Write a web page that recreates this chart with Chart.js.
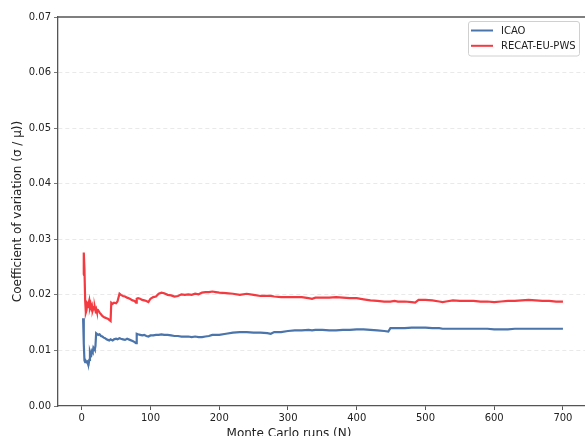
<!DOCTYPE html>
<html>
<head>
<meta charset="utf-8">
<script src="https://cdn.jsdelivr.net/npm/chart.js@4/dist/chart.umd.min.js"></script>
<style>
html,body{margin:0;padding:0;overflow:hidden;background:#fff;}
#wrap{width:585px;height:436px;overflow:hidden;position:relative;}
canvas{display:block;}
</style>
</head>
<body>
<div id="wrap"><canvas id="c" width="620" height="436"></canvas></div>
<script>
const runs = [2,3,4,5,6,7,8,9,10,11,12,13,14,15,16,17,18,19,20,21,22,24,26,28,30,32,34,36,38,40,42,43,45,47,50,52,55,57,60,63,66,70,74,77,79,80,82,85,88,91,94,97,100,104,108,112,116,120,125,130,135,140,145,150,155,160,165,170,175,180,185,190,195,200,210,220,230,240,250,260,270,275,280,290,300,310,320,330,335,340,350,360,370,380,390,400,410,420,430,440,446,449,455,460,470,480,485,490,495,500,510,520,525,530,540,550,560,570,580,590,600,610,620,630,640,650,660,670,680,690,700];

const icao = [0.0158,0.0112,0.0082,0.0079,0.0081,0.0079,0.0080,0.0076,0.0075,0.0083,0.0098,0.0094,0.0092,0.0099,0.0097,0.0105,0.0103,0.0101,0.0108,0.0131,0.0130,0.0128,0.0129,0.0126,0.0125,0.0123,0.0122,0.0120,0.0119,0.0118,0.0120,0.0119,0.0118,0.0120,0.0121,0.0120,0.0122,0.0121,0.0120,0.0119,0.0121,0.0119,0.0117,0.0115,0.0113,0.0130,0.0129,0.0128,0.0127,0.0128,0.0126,0.0125,0.0127,0.0127,0.0128,0.0128,0.0129,0.0128,0.0128,0.0127,0.0126,0.0126,0.0125,0.0125,0.0125,0.0124,0.0125,0.0124,0.0124,0.0125,0.0126,0.0128,0.0128,0.0128,0.0130,0.0132,0.0133,0.0133,0.0132,0.0132,0.0131,0.0130,0.0133,0.0133,0.0135,0.0136,0.0136,0.0137,0.0136,0.0137,0.0137,0.0136,0.0136,0.0137,0.0137,0.0138,0.0138,0.0137,0.0136,0.0135,0.0134,0.0140,0.0140,0.0140,0.0140,0.0141,0.0141,0.0141,0.0141,0.0141,0.0140,0.0140,0.0139,0.0139,0.0139,0.0139,0.0139,0.0139,0.0139,0.0139,0.0138,0.0138,0.0138,0.0139,0.0139,0.0139,0.0139,0.0139,0.0139,0.0139,0.0139];

const recat = [0.0236,0.0276,0.0245,0.0190,0.0168,0.0172,0.0188,0.0176,0.0185,0.0190,0.0178,0.0183,0.0176,0.0180,0.0172,0.0176,0.0174,0.0178,0.0172,0.0175,0.0170,0.0172,0.0168,0.0165,0.0162,0.0160,0.0159,0.0158,0.0157,0.0155,0.0153,0.0186,0.0184,0.0186,0.0185,0.0188,0.0202,0.0200,0.0198,0.0197,0.0195,0.0193,0.0190,0.0189,0.0186,0.0193,0.0194,0.0193,0.0191,0.0190,0.0189,0.0187,0.0193,0.0196,0.0197,0.0202,0.0204,0.0203,0.0200,0.0199,0.0197,0.0198,0.0201,0.0200,0.0201,0.0200,0.0202,0.0201,0.0204,0.0205,0.0205,0.0206,0.0205,0.0204,0.0203,0.0202,0.0200,0.0202,0.0200,0.0198,0.0198,0.0198,0.0197,0.0196,0.0196,0.0196,0.0196,0.0194,0.0193,0.0195,0.0195,0.0195,0.0196,0.0195,0.0194,0.0194,0.0192,0.0190,0.0189,0.0188,0.0188,0.0188,0.0189,0.0188,0.0188,0.0187,0.0186,0.0191,0.0191,0.0191,0.0190,0.0188,0.0187,0.0188,0.0190,0.0189,0.0189,0.0189,0.0188,0.0188,0.0187,0.0188,0.0189,0.0189,0.0190,0.0191,0.0190,0.0189,0.0189,0.0188,0.0188];

const xTicks = [0,100,200,300,400,500,600,700];
const yTicks = [0,0.01,0.02,0.03,0.04,0.05,0.06,0.07];
const seriesNames = ['ICAO','RECAT-EU-PWS'];
const xTitle = 'Monte Carlo runs (N)';
const yTitle = 'Coefficient of variation (σ / μ))';

const FONT = 'DejaVu Sans';
const SPINE = '#555555';

const toPts = (ys) => runs.map((x,i)=>({x:x,y:ys[i]}));

const extras = {
  id:'extras',
  afterDraw(chart){
    const {ctx, chartArea:a} = chart;
    ctx.save();
    // top spine
    ctx.strokeStyle = SPINE; ctx.lineWidth = 1.3;
    ctx.beginPath();
    ctx.moveTo(a.left, a.top); ctx.lineTo(a.right, a.top);
    ctx.stroke();
    // x title
    ctx.fillStyle = '#222';
    ctx.font = '12px "'+FONT+'"';
    ctx.textAlign = 'center'; ctx.textBaseline = 'middle';
    ctx.fillText(xTitle, 289, 434);
    // legend
    const bx = 468.5, by = 21.5, bw = 111, bh = 34.5;
    ctx.fillStyle = 'rgba(255,255,255,0.85)';
    ctx.strokeStyle = '#d0d0d0'; ctx.lineWidth = 1;
    ctx.beginPath();
    ctx.roundRect(bx, by, bw, bh, 2.5);
    ctx.fill(); ctx.stroke();
    ctx.font = '10px "'+FONT+'"';
    ctx.textAlign = 'left';
    chart.data.datasets.forEach((ds,i)=>{
      const yy = 30.5 + i*15.3;
      ctx.strokeStyle = ds.borderColor; ctx.lineWidth = 2;
      ctx.beginPath(); ctx.moveTo(471, yy); ctx.lineTo(493, yy); ctx.stroke();
      ctx.fillStyle = '#222';
      ctx.fillText(ds.label, 501, yy+0.5);
    });
    ctx.restore();
  }
};

new Chart(document.getElementById('c'), {
  type:'line',
  data:{
    datasets:[
      {label:seriesNames[0], data:toPts(icao), borderColor:'#4a74aa', borderWidth:2.2, pointRadius:0, tension:0, fill:false},
      {label:seriesNames[1], data:toPts(recat), borderColor:'#f23a40', borderWidth:2.2, pointRadius:0, tension:0, fill:false}
    ]
  },
  options:{
    responsive:false,
    animation:false,
    devicePixelRatio:1,
    layout:{padding:{left:0, top:17, right:33, bottom:0}},
    plugins:{legend:{display:false}, tooltip:{enabled:false}},
    scales:{
      x:{
        type:'linear', min:-34.5, max:735,
        afterBuildTicks(s){ s.ticks = xTicks.map(v=>({value:v})); },
        afterFit(s){ s.height = 30; },
        grid:{drawOnChartArea:false, tickLength:4, tickColor:SPINE, tickWidth:1},
        border:{color:SPINE, width:1.3},
        ticks:{color:'#222', font:{family:FONT, size:10}, padding:2, maxRotation:0, autoSkip:false,
          callback:(v)=>String(v)}
      },
      y:{
        type:'linear', min:0, max:0.07,
        afterBuildTicks(s){ s.ticks = yTicks.map(v=>({value:v})); },
        afterFit(s){ s.width = 58; },
        grid:{
          color:(c)=> (c.tick && c.tick.value>0.001 && c.tick.value<0.069) ? '#e3e3e3' : 'rgba(0,0,0,0)',
          tickColor:SPINE, tickLength:4, lineWidth:0.8
        },
        border:{color:SPINE, width:1.3, dash:[4,3]},
        ticks:{color:'#222', font:{family:FONT, size:10}, padding:3, autoSkip:false,
          callback:(v)=>Number(v).toFixed(2)},
        title:{display:true, text:yTitle, color:'#222', font:{family:FONT, size:12}, padding:{top:11, bottom:0}}
      }
    }
  },
  plugins:[extras]
});
</script>
</body>
</html>
